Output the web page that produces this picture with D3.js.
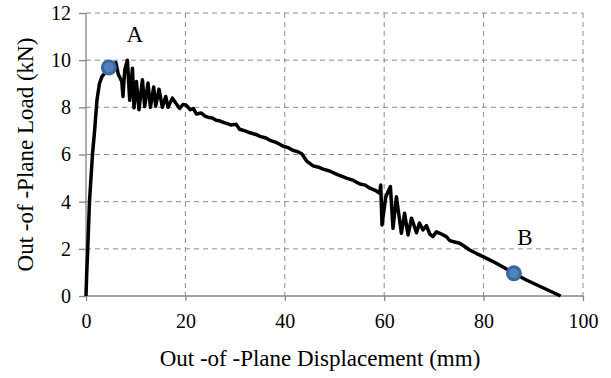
<!DOCTYPE html>
<html>
<head>
<meta charset="utf-8">
<script src="https://cdn.jsdelivr.net/npm/d3@7"></script>
<style>
  body { margin: 0; background: #fff; }
  svg { display: block; }
  .grid line { stroke: #8c8c8c; stroke-width: 1; stroke-dasharray: 5,4; }
  .axis path, .axis line { stroke: #868686; stroke-width: 1.3; }
</style>
</head>
<body>
<svg width="611" height="378"></svg>
<script>
// Out-of-plane load vs displacement
const displacement = [
  0, 0.15, 0.35, 0.7, 1.3, 1.75, 2.2, 2.7, 3.2, 4.0, 4.6, 5.4, 6.0, 6.5, 7.2, 7.44, 7.8, 8.33,
  8.79, 9.34, 9.66, 10.14, 10.66, 11.35, 11.81, 12.47, 12.96, 13.62, 14.02, 14.69, 15.37, 16.04,
  16.5, 17.38, 18.05, 18.85, 19.5, 20.1, 21.0, 21.6, 22.2, 23.2, 24.0, 24.5, 25.4, 26.2, 27.0,
  27.8, 28.6, 29.2, 30.2, 30.9, 32.0, 33.0, 34.2, 35.0, 36.2, 37.0, 38.4, 39.6, 40.8, 41.7,
  42.6, 43.4, 44.0, 44.4, 45.7, 46.8, 47.7, 49.0, 50.6, 52.4, 53.8, 55.1, 56.2, 57.1, 58.2,
  59.1, 59.3, 59.56, 60.3, 61.25, 61.77, 62.45, 63.46, 64.1, 64.8, 65.5, 66.5, 67.1, 67.8,
  68.5, 69.2, 69.8, 70.5, 71.2, 72.5, 73.2, 73.8, 75.2, 76.2, 77.2, 78.6, 79.9, 81.9, 84.0,
  86.1, 88.6, 95.5
];
const load = [
  0, 1.0, 2.0, 4.0, 6.0, 7.05, 8.3, 9.0, 9.3, 9.5, 9.69, 9.72, 9.9, 9.4, 9.1, 8.46, 9.6, 10.0,
  8.3, 9.66, 7.98, 9.1, 7.9, 9.17, 8.03, 9.03, 8.0, 8.86, 8.05, 8.77, 8.0, 8.46,
  8.0, 8.39, 8.18, 7.95, 8.12, 8.1, 7.9, 7.95, 7.72, 7.76, 7.62, 7.58, 7.55, 7.45, 7.42,
  7.35, 7.3, 7.25, 7.28, 7.07, 7.0, 6.92, 6.85, 6.77, 6.7, 6.6, 6.5, 6.36, 6.28, 6.17,
  6.12, 6.03, 5.85, 5.72, 5.52, 5.46, 5.38, 5.3, 5.15, 5.0, 4.9, 4.75, 4.7, 4.57, 4.48,
  4.36, 4.71, 3.01, 4.2, 4.64, 2.87, 4.21, 2.66, 3.51, 2.59, 3.3, 2.68, 3.09, 2.8,
  2.98, 2.62, 2.52, 2.72, 2.66, 2.52, 2.35, 2.31, 2.24, 2.1, 1.95, 1.8, 1.67, 1.46, 1.22,
  0.96, 0.68, 0
];

// Marked points
const pointNames = ['A', 'B'];
const pointX = [4.6, 86.1];
const pointY = [9.69, 0.96];

const xTicks = [0, 20, 40, 60, 80, 100];
const yTicks = [0, 2, 4, 6, 8, 10, 12];

const xTitle = 'Out -of -Plane Displacement (mm)';
const yTitle = 'Out -of -Plane Load (kN)';

// Label offsets from their markers, in px
const labelOffset = [[26, -25], [11, -28]];

const serif = '"Liberation Serif", "Times New Roman", serif';

const svg = d3.select('svg');
const margin = {top: 13, right: 28, bottom: 82, left: 86};
const width = +svg.attr('width') - margin.left - margin.right;
const height = +svg.attr('height') - margin.top - margin.bottom;
const g = svg.append('g').attr('transform', `translate(${margin.left},${margin.top})`);

const x = d3.scaleLinear().domain([0, 100]).range([0, width]);
const y = d3.scaleLinear().domain([0, 12]).range([height, 0]);

// Gridlines
g.append('g').attr('class', 'grid')
  .selectAll('line')
  .data(yTicks.filter(d => d > 0)).enter()
  .append('line')
  .attr('x1', 0).attr('x2', width)
  .attr('y1', d => y(d)).attr('y2', d => y(d));

g.append('g').attr('class', 'grid')
  .selectAll('line')
  .data(xTicks.filter(d => d > 0)).enter()
  .append('line')
  .attr('y1', 0).attr('y2', height)
  .attr('x1', d => x(d)).attr('x2', d => x(d));

// Axes
const xAxis = g.append('g').attr('class', 'axis')
  .attr('transform', `translate(0,${height})`)
  .call(d3.axisBottom(x).tickValues(xTicks).tickSize(5).tickSizeOuter(0).tickPadding(13));
const yAxis = g.append('g').attr('class', 'axis')
  .call(d3.axisLeft(y).tickValues(yTicks).tickSize(7).tickSizeOuter(0).tickPadding(8));
xAxis.select('.domain').attr('d', `M0,0H${width}`);
yAxis.select('.domain').attr('d', `M0,${height}V0`);
svg.selectAll('.axis').attr('font-family', serif).attr('font-size', 20);
svg.selectAll('.axis text').attr('fill', '#000');

// Curve
const pts = displacement.map((d, i) => [d, load[i]]);
const line = d3.line()
  .x(d => x(d[0]))
  .y(d => y(d[1]));

g.append('path')
  .datum(pts)
  .attr('fill', 'none')
  .attr('stroke', '#000')
  .attr('stroke-width', 3.5)
  .attr('stroke-linejoin', 'round')
  .attr('d', line);

// Markers and labels
const marks = g.append('g').selectAll('.mark')
  .data(pointNames).enter()
  .append('g')
  .attr('class', 'mark');

marks.append('circle')
  .attr('cx', (d, i) => x(pointX[i]))
  .attr('cy', (d, i) => y(pointY[i]))
  .attr('r', 6.5)
  .attr('fill', '#4F81BD')
  .attr('stroke', '#3C679C')
  .attr('stroke-width', 3);

marks.append('text')
  .attr('x', (d, i) => x(pointX[i]) + labelOffset[i][0])
  .attr('y', (d, i) => y(pointY[i]) + labelOffset[i][1])
  .attr('text-anchor', 'middle')
  .attr('font-family', serif)
  .attr('font-size', 23)
  .text(d => d);

// Axis titles
svg.append('text')
  .attr('x', 320)
  .attr('y', 366)
  .attr('text-anchor', 'middle')
  .attr('font-family', serif)
  .attr('font-size', 23)
  .text(xTitle);

svg.append('text')
  .attr('transform', `translate(33,${margin.top + height / 2}) rotate(-90)`)
  .attr('text-anchor', 'middle')
  .attr('font-family', serif)
  .attr('font-size', 23)
  .text(yTitle);
</script>
</body>
</html>
